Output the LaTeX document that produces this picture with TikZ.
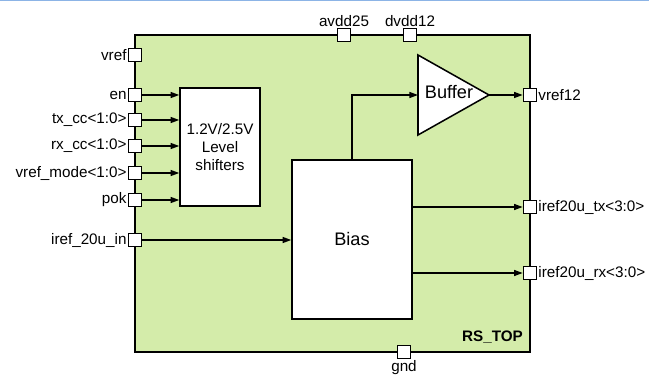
\documentclass[tikz,border=0pt]{standalone}
\usepackage{fontspec}
\setmainfont{Liberation Sans}
\usepackage{xcolor}
\usepackage{tikz}
\usetikzlibrary{calc, arrows.meta, positioning}

\definecolor{chipgreen}{RGB}{212,236,170}
\definecolor{edgeblue}{RGB}{140,180,230}

\tikzset{
    port/.style={draw, fill=white, line width=1.1pt, minimum size=0.4cm, inner sep=0pt},
    lbl/.style={font=\fontsize{13}{15}\selectfont, inner sep=0.8pt},
    blk/.style={draw, fill=white, line width=1.3pt, inner sep=0pt, align=center},
    sig/.style={->, line width=1.2pt}
}

\begin{document}
\begin{tikzpicture}[x=0.03cm, y=-0.03cm, >={Triangle[length=2.6mm, width=1.8mm]}]
    \useasboundingbox (0,0) rectangle (649,376);
    % đường viền xanh phía trên
    \draw[edgeblue, line width=0.8pt] (0,0.6) -- (649,0.6);

    % Khối chính RS_TOP
    \draw[line width=1.4pt, fill=chipgreen] (135,35) rectangle (530,352);
    \node[font=\bfseries\fontsize{13}{15}\selectfont, anchor=south east] (rstop) at (527,347) {RS\_TOP};

    % Các khối bên trong
    \node[blk, minimum width=2.4cm, minimum height=3.54cm, font=\fontsize{13}{15.5}\selectfont] (ls) at (220,147) {1.2V/2.5V\\Level\\shifters};
    \node[blk, minimum width=3.6cm, minimum height=4.77cm, font=\fontsize{15.5}{18}\selectfont] (bias) at (352,239.5) {Bias};
    \coordinate (bufin) at (418,95);
    \coordinate (bufout) at (489,95);
    \draw[line width=1.3pt, fill=white] (418,55) -- (bufout) -- (418,135) -- cycle;
    \node[font=\fontsize{15.5}{18}\selectfont] (buftxt) at (449,92) {Buffer};

    % Chân bên trái
    \node[port, label={[lbl]left:vref}] (vref) at (135,55) {};
    \node[port, label={[lbl]left:en}] (en) at (135,95) {};
    \node[port, label={[lbl]left:tx\_cc<1:0>}] (txcc) at (135,120) {};
    \node[port, label={[lbl]left:rx\_cc<1:0>}] (rxcc) at (135,146) {};
    \node[port, label={[lbl]left:vref\_mode<1:0>}] (vmode) at (135,173) {};
    \node[port, label={[lbl]left:pok}] (pok) at (135,200) {};
    \node[port, label={[lbl]left:iref\_20u\_in}] (irefin) at (135,240) {};

    % Chân phía trên và dưới
    \node[port, label={[lbl]above:avdd25}] (avdd) at (344,35) {};
    \node[port, label={[lbl]above:dvdd12}] (dvdd) at (410,35) {};
    \node[port, label={[lbl]below:gnd}] (gnd) at (404,352) {};

    % Chân bên phải
    \node[port, label={[lbl]right:vref12}] (vref12) at (530,95) {};
    \node[port, label={[lbl]right:iref20u\_tx<3:0>}] (itx) at (530,207) {};
    \node[port, label={[lbl]right:iref20u\_rx<3:0>}] (irx) at (530,273) {};

    % Tín hiệu vào level shifters
    \foreach \p in {en, txcc, rxcc, vmode, pok}
        \draw[sig] (\p.east) -- (\p.east -| ls.west);
    \draw[sig] (irefin.east) -- (irefin.east -| bias.west);

    % Bias ra buffer và các ngõ ra
    \draw[sig] (bias.north) |- (bufin);
    \draw[sig] (bufout) -- (vref12.west);
    \draw[sig] (itx.west -| bias.east) -- (itx.west);
    \draw[sig] (irx.west -| bias.east) -- (irx.west);
\end{tikzpicture}
\end{document}
